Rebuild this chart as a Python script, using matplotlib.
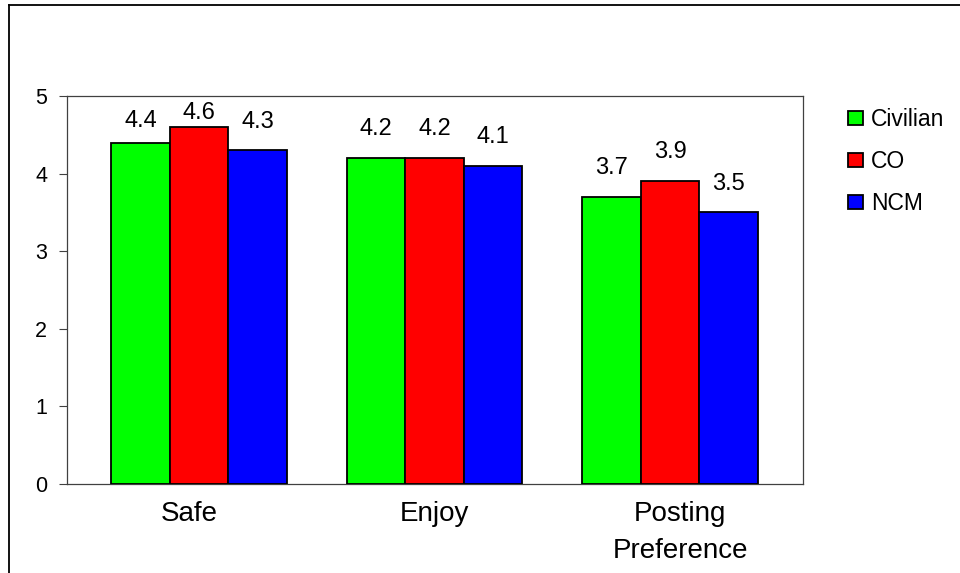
import matplotlib
matplotlib.use("Agg")
import matplotlib.pyplot as plt
from matplotlib.lines import Line2D
import numpy as np

plt.rcParams['font.family'] = ['Liberation Sans', 'DejaVu Sans']

categories = ["Safe", "Enjoy", "Posting\nPreference"]
series_names = ["Civilian", "CO", "NCM"]
civilian = [4.4, 4.2, 3.7]
co = [4.6, 4.2, 3.9]
ncm = [4.3, 4.1, 3.5]
y_ticks = [0, 1, 2, 3, 4, 5]

colors = ["#00FF00", "#FF0000", "#0000FF"]
# vertical offset (pixels) of each value label above its bar
label_gap = [[22, 14, 28], [29, 29, 29], [29, 29, 28]]

fig = plt.figure(figsize=(9.6, 5.73), dpi=100)
ax = fig.add_axes([66.7 / 960, 1 - 484 / 573, (803 - 66.7) / 960, (484 - 96) / 573])

x = np.arange(len(categories))
width = 0.249
series = [civilian, co, ncm]
for i, (vals, name, col) in enumerate(zip(series, series_names, colors)):
    pos = x + (i - 1) * width
    bars = ax.bar(pos, vals, width, color=col, edgecolor="black",
                  linewidth=1.3, label=name, zorder=3)
    for j, (b, v) in enumerate(zip(bars, vals)):
        ax.annotate(f"{v:.1f}", (b.get_x() + b.get_width() / 2, v),
                    xytext=(0, label_gap[j][i]), textcoords="offset pixels",
                    ha="center", va="center", fontsize=17, color="black")

lo, hi = -0.562, 2.565
ax.set_xlim(lo, hi)
ax.set_ylim(0, 5)
ax.set_yticks(y_ticks)
ax.set_yticklabels([str(t) for t in y_ticks], fontsize=15.5)
ax.tick_params(axis="y", direction="out", length=6, width=0.8, pad=8, color="#404040")

# category labels sit in the middle of equal slots along the axis
n = len(categories)
slot_centers = [lo + (hi - lo) * (k + 0.5) / n for k in range(n)]
ax.set_xticks(slot_centers)
ax.set_xticklabels(categories, fontsize=20, linespacing=1.52)
ax.tick_params(axis="x", length=0, pad=12.5)
for s in ax.spines.values():
    s.set_color("#404040")
    s.set_linewidth(0.9)

leg = fig.legend(loc="upper left", bbox_to_anchor=(848 / 960, 1 - 108 / 573),
                 fontsize=16.5, frameon=False, handlelength=0.65, handleheight=0.6,
                 handletextpad=0.35, labelspacing=0.83, borderaxespad=0,
                 borderpad=0)

# outer chart border
fig.add_artist(Line2D([8.5 / 960, 1.0], [1 - 4.5 / 573, 1 - 4.5 / 573],
                      transform=fig.transFigure, color="black", linewidth=1.3))
fig.add_artist(Line2D([8.5 / 960, 8.5 / 960], [0.0, 1 - 4.5 / 573],
                      transform=fig.transFigure, color="black", linewidth=1.3))

fig.savefig("out.png", dpi=100, facecolor="white")
